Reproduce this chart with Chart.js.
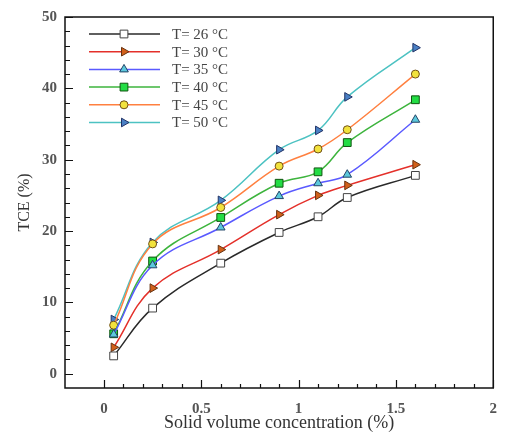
<!DOCTYPE html>
<html>
<head>
<meta charset="utf-8">
<script src="https://cdn.jsdelivr.net/npm/chart.js@4/dist/chart.umd.min.js"></script>
<style>
  body { margin: 0; background: #fff; }
  #wrap { width: 509px; height: 432px; }
</style>
</head>
<body>
<div id="wrap"><canvas id="tce" width="509" height="432"></canvas></div>
<script>
// solid volume concentration (%)
const conc = [0.05, 0.25, 0.6, 0.9, 1.1, 1.25, 1.6];

// TCE (%) for each temperature
const t26 = [2.5, 9.2, 15.5, 19.8, 22.0, 24.7, 27.8];
const t30 = [3.7, 12.0, 17.4, 22.3, 25.0, 26.4, 29.3];
const t35 = [5.5, 15.2, 20.5, 24.9, 26.7, 27.9, 35.6];
const t40 = [5.6, 15.8, 21.9, 26.7, 28.3, 32.4, 38.4];
const t45 = [6.8, 18.2, 23.3, 29.1, 31.5, 34.2, 42.0];
const t50 = [7.6, 18.4, 24.3, 31.4, 34.1, 38.8, 45.7];

const seriesLabels = ['T= 26 \u00b0C', 'T= 30 \u00b0C', 'T= 35 \u00b0C', 'T= 40 \u00b0C', 'T= 45 \u00b0C', 'T= 50 \u00b0C'];

const xTicks = [0, 0.5, 1, 1.5, 2];
const yTicks = [0, 10, 20, 30, 40, 50];

const serif = "'Liberation Serif', 'DejaVu Serif', serif";

function pts(vals) {
  return vals.map((v, i) => ({ x: conc[i], y: v }));
}

function series(label, vals, line, fill, edge, style, rot, r) {
  return {
    label: label,
    data: pts(vals),
    borderColor: line,
    borderWidth: 1.5,
    tension: 0.4,
    pointStyle: style,
    pointRotation: rot,
    pointRadius: r,
    pointBackgroundColor: fill,
    pointBorderColor: edge,
    pointBorderWidth: 1,
    fill: false
  };
}

const datasets = [
  series(seriesLabels[0], t26, '#2a2a2a', '#ffffff', '#444444', 'rect', 0, 5.5),
  series(seriesLabels[1], t30, '#e4302a', '#d2601a', '#663311', 'triangle', 90, 5),
  series(seriesLabels[2], t35, '#5a5aff', '#5cc8dc', '#224466', 'triangle', 0, 5),
  series(seriesLabels[3], t40, '#3db43d', '#22dd44', '#115511', 'rect', 0, 5.5),
  series(seriesLabels[4], t45, '#ff8040', '#f2e23c', '#705018', 'circle', 0, 4),
  series(seriesLabels[5], t50, '#4cc2c2', '#4a80c4', '#223366', 'triangle', 90, 5)
];

// frame, inward ticks (major + minor) and the legend box
const framePlugin = {
  id: 'frame',
  afterDraw(chart) {
    const ctx = chart.ctx;
    const a = chart.chartArea;
    const xs = chart.scales.x, ys = chart.scales.y;
    ctx.save();
    ctx.strokeStyle = '#111';
    ctx.lineWidth = 1.5;
    ctx.strokeRect(a.left, a.top, a.right - a.left, a.bottom - a.top);

    ctx.lineWidth = 1.2;
    ctx.beginPath();
    for (let v = 0; v <= 2.0001; v += 0.1) {
      const px = Math.round(xs.getPixelForValue(v)) + 0.5;
      const major = Math.abs(v * 2 - Math.round(v * 2)) < 1e-6;
      ctx.moveTo(px, a.bottom);
      ctx.lineTo(px, a.bottom - (major ? 8 : 4));
    }
    for (let v = 0; v <= 50; v += 2) {
      const py = Math.round(ys.getPixelForValue(v)) + 0.5;
      const major = v % 10 === 0;
      ctx.moveTo(a.left, py);
      ctx.lineTo(a.left + (major ? 8 : 5), py);
    }
    ctx.stroke();

    // legend
    ctx.font = '15px ' + serif;
    ctx.textBaseline = 'middle';
    ctx.textAlign = 'left';
    chart.data.datasets.forEach((ds, i) => {
      const y = 34 + i * 17.7;
      ctx.strokeStyle = ds.borderColor;
      ctx.lineWidth = 1.5;
      ctx.beginPath();
      ctx.moveTo(89, y);
      ctx.lineTo(160, y);
      ctx.stroke();
      ctx.fillStyle = ds.pointBackgroundColor;
      ctx.strokeStyle = ds.pointBorderColor;
      ctx.lineWidth = 1;
      Chart.helpers.drawPoint(ctx, {
        pointStyle: ds.pointStyle,
        rotation: ds.pointRotation,
        radius: ds.pointRadius,
        borderWidth: 1
      }, 124, y);
      ctx.fillStyle = '#444';
      ctx.fillText(ds.label, 172, y + 1);
    });
    ctx.restore();
  }
};

new Chart(document.getElementById('tce'), {
  type: 'line',
  data: { datasets: datasets },
  options: {
    responsive: false,
    animation: false,
    layout: { padding: { left: 0, top: 15, right: 2, bottom: 0 } },
    plugins: {
      legend: { display: false },
      tooltip: { enabled: false }
    },
    scales: {
      x: {
        type: 'linear',
        min: -0.2,
        max: 2,
        afterBuildTicks: s => { s.ticks = xTicks.map(v => ({ value: v })); },
        afterFit: s => { s.height = 44; },
        grid: { display: false, drawTicks: false },
        border: { display: false },
        ticks: {
          padding: 12,
          color: '#555',
          font: { family: serif, size: 15, weight: 'bold' },
          maxRotation: 0,
          callback: v => String(v)
        },
        title: {
          display: true,
          text: 'Solid volume concentration (%)',
          color: '#333',
          font: { family: serif, size: 18, lineHeight: 1 },
          padding: { top: 0, bottom: 0 }
        }
      },
      y: {
        type: 'linear',
        min: -2,
        max: 50,
        afterBuildTicks: s => { s.ticks = yTicks.map(v => ({ value: v })); },
        afterFit: s => { s.width = 65; },
        grid: { display: false, drawTicks: false },
        border: { display: false },
        ticks: {
          padding: 8,
          color: '#555',
          font: { family: serif, size: 15, weight: 'bold' }
        },
        title: {
          display: true,
          text: 'TCE (%)',
          color: '#333',
          font: { family: serif, size: 16, lineHeight: 1.2 },
          padding: { top: 15, bottom: 0 }
        }
      }
    }
  },
  plugins: [framePlugin]
});
</script>
</body>
</html>
